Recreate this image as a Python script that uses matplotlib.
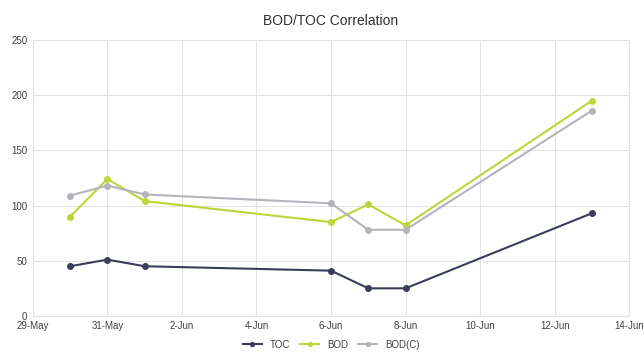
import matplotlib
matplotlib.use("Agg")
import matplotlib.pyplot as plt
import matplotlib.dates as mdates
import pandas as pd

plt.rcParams['font.family'] = ['Liberation Sans', 'DejaVu Sans']

dates = pd.to_datetime(["2023-05-30", "2023-05-31", "2023-06-01", "2023-06-06",
                        "2023-06-07", "2023-06-08", "2023-06-13"])
toc = [45, 51, 45, 41, 25, 25, 93]
bod = [90, 124, 104, 85, 101, 82, 195]
bod_c = [109, 118, 110, 102, 78, 78, 186]

fig = plt.figure(figsize=(6.44, 3.53), dpi=100)
ax = fig.add_axes([0.051, 0.105, 0.926, 0.782])

ax.plot(dates, toc, color="#3a3d5a", marker="o", markersize=4, linewidth=1.5, label="TOC")
ax.plot(dates, bod, color="#bcd63a", marker="o", markersize=4, linewidth=1.5, label="BOD")
ax.plot(dates, bod_c, color="#b4b4bc", marker="o", markersize=4, linewidth=1.5, label="BOD(C)")

ax.set_xlim(pd.Timestamp("2023-05-29"), pd.Timestamp("2023-06-14"))
ax.set_ylim(0, 250)
ax.set_yticks([0, 50, 100, 150, 200, 250])
ax.xaxis.set_major_locator(mdates.DayLocator(bymonthday=[29, 31, 2, 4, 6, 8, 10, 12, 14]))
ax.xaxis.set_major_formatter(mdates.DateFormatter("%-d-%b"))
ax.grid(True, color="#e3e3e3", linewidth=0.8)
ax.set_axisbelow(True)
for s in ax.spines.values():
    s.set_color("#e3e3e3")
ax.tick_params(length=0, labelsize=7, colors="#404040", pad=4)

ax.set_title("BOD/TOC Correlation", fontsize=10, color="#303030", pad=11)
ax.legend(loc="upper center", bbox_to_anchor=(0.5, -0.055), ncol=3, frameon=False,
          fontsize=7, handlelength=2.0, markerscale=0.7, columnspacing=1.0,
          labelcolor="#404040")

fig.savefig("out.png", dpi=100)
